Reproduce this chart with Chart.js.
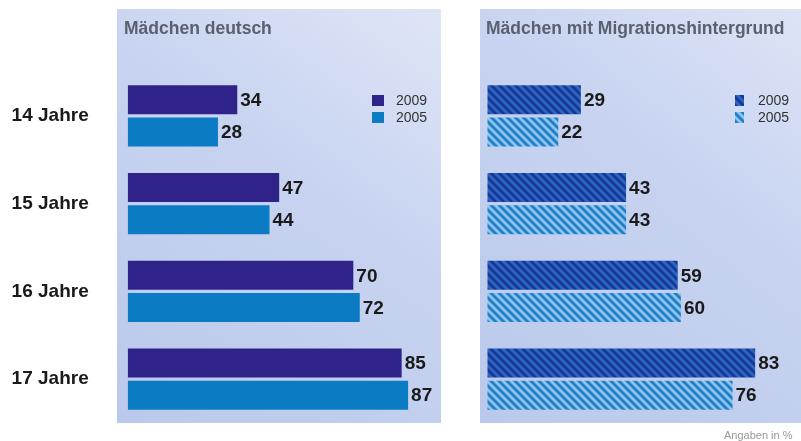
<!DOCTYPE html>
<html><head><meta charset="utf-8">
<script src="https://cdn.jsdelivr.net/npm/chart.js@4.4.1/dist/chart.umd.min.js"></script>
<style>
html,body{margin:0;padding:0;background:#fff;overflow:hidden;width:801px;height:441px;}
#wrap{position:relative;width:801px;height:441px;overflow:hidden;background:#fff;}
#c1{position:absolute;left:0;top:0;}
#c2{position:absolute;left:470px;top:0;}
</style></head><body>
<div id="wrap">
<canvas id="c1" width="470" height="441"></canvas>
<canvas id="c2" width="360" height="441"></canvas>
</div>
<script>
const categories = ['14 Jahre', '15 Jahre', '16 Jahre', '17 Jahre'];
const seriesLabels = ['2009', '2005'];
const deutsch2009 = [34, 47, 70, 85];
const deutsch2005 = [28, 44, 72, 87];
const migr2009 = [29, 43, 59, 83];
const migr2005 = [22, 43, 60, 76];
const titles = ['Mädchen deutsch', 'Mädchen mit Migrationshintergrund'];
const footnote = 'Angaben in %';

const FONT = '"Liberation Sans", Arial, Helvetica, sans-serif';

function makeHatch(bg, fg) {
  const p = 8;
  const c = document.createElement('canvas');
  c.width = p; c.height = p;
  const x = c.getContext('2d');
  x.fillStyle = bg; x.fillRect(0, 0, p, p);
  x.strokeStyle = fg; x.lineWidth = 2.9; x.lineCap = 'square';
  for (const o of [-p, 0, p]) {
    x.beginPath(); x.moveTo(o - 2, -2); x.lineTo(o + p + 2, p + 2); x.stroke();
  }
  return x.createPattern(c, 'repeat');
}
const hatch2009 = makeHatch('#2a66c4', '#1b3795');
const hatch2005 = makeHatch('#8fc3ec', '#1f80c9');

const panelPlugin = {
  id: 'panel',
  beforeDraw(chart, args, o) {
    const ctx = chart.ctx;
    ctx.save();
    const g = ctx.createLinearGradient(o.x, o.y + o.h, o.x + o.w * 0.9, o.y);
    g.addColorStop(0, '#bac9eb');
    g.addColorStop(0.6, '#c7d3f0');
    g.addColorStop(1, '#dde4f6');
    ctx.fillStyle = g;
    ctx.fillRect(o.x, o.y, o.w, o.h);
    // title
    ctx.fillStyle = '#5a606f';
    ctx.font = 'bold 17.5px ' + FONT;
    ctx.textBaseline = 'middle';
    ctx.textAlign = 'left';
    ctx.fillText(o.title, o.titleX, 29);
    // legend
    ctx.font = '14px ' + FONT;
    o.legend.forEach((it, i) => {
      const y = 95 + i * 17;
      ctx.fillStyle = it.color;
      ctx.fillRect(o.legendX, y, o.legendW, 11);
      ctx.fillStyle = '#333';
      ctx.fillText(it.label, o.legendTextX, y + 6);
    });
    if (o.footnote) {
      ctx.font = '11px ' + FONT;
      ctx.fillStyle = '#9a9a9a';
      ctx.fillText(o.footnote, o.footX, 436);
    }
    ctx.restore();
  }
};

const valuePlugin = {
  id: 'values',
  afterDatasetsDraw(chart) {
    const ctx = chart.ctx;
    ctx.save();
    ctx.font = 'bold 19px ' + FONT;
    ctx.fillStyle = '#1a1a1a';
    ctx.textAlign = 'left';
    ctx.textBaseline = 'middle';
    chart.data.datasets.forEach((ds, i) => {
      chart.getDatasetMeta(i).data.forEach((bar, j) => {
        ctx.fillText(String(ds.data[j]), bar.x + 3, bar.y + 1);
      });
    });
    ctx.restore();
  }
};

function makeChart(id, d1, d2, c1, c2, axisWidth, showTicks, panel) {
  return new Chart(document.getElementById(id), {
    type: 'bar',
    data: {
      labels: categories,
      datasets: [
        { label: seriesLabels[0], data: d1, backgroundColor: c1, borderWidth: 0 },
        { label: seriesLabels[1], data: d2, backgroundColor: c2, borderWidth: 0 }
      ]
    },
    options: {
      indexAxis: 'y',
      responsive: false,
      animation: false,
      events: [],
      categoryPercentage: 0.73,
      barPercentage: 0.906,
      layout: { padding: { top: 72, bottom: 18, left: 0, right: 20 } },
      scales: {
        x: { display: false, min: 0, max: 100 },
        y: {
          grid: { display: false, drawTicks: false },
          border: { display: false },
          afterFit(s) { s.width = axisWidth; s.paddingTop = 0; s.paddingBottom = 0; },
          ticks: {
            display: showTicks,
            padding: 39,
            color: '#1a1a1a',
            font: { family: FONT, size: 19, weight: 'bold' }
          }
        }
      },
      plugins: {
        legend: { display: false },
        tooltip: { enabled: false },
        title: { display: false },
        panel: panel
      }
    },
    plugins: [panelPlugin, valuePlugin]
  });
}

makeChart('c1', deutsch2009, deutsch2005, '#2f2389', '#0b7cc3', 127.7, true, {
  x: 117, y: 9, w: 324, h: 414, title: titles[0], titleX: 124,
  legendX: 372, legendW: 12, legendTextX: 396,
  legend: [{ label: seriesLabels[0], color: '#2f2389' }, { label: seriesLabels[1], color: '#0b7cc3' }]
});
makeChart('c2', migr2009, migr2005, hatch2009, hatch2005, 17.3, false, {
  x: 10, y: 9, w: 360, h: 414, title: titles[1], titleX: 16,
  legendX: 265, legendW: 9, legendTextX: 288,
  legend: [{ label: seriesLabels[0], color: hatch2009 }, { label: seriesLabels[1], color: hatch2005 }],
  footnote: footnote, footX: 254
});
</script>
</body></html>
